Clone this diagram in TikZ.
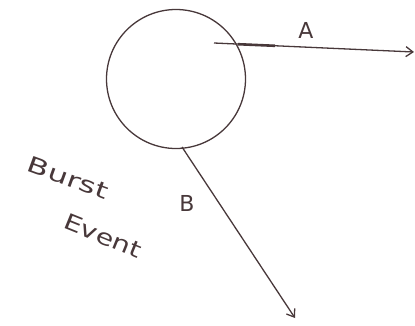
\documentclass[tikz,border=0pt]{standalone}
\usetikzlibrary{arrows.meta}
\usepackage{fontspec}
\setmainfont{DejaVu Sans}
\definecolor{ink}{RGB}{72,56,58}
\begin{document}
\begin{tikzpicture}[x=1pt,y=-1pt,
  pen/.style={draw=ink,line width=1.3pt},
  arr/.style={pen,-{Straight Barb[length=7pt,width=10pt]}},
  lab/.style={text=ink,font=\fontsize{22}{22}\selectfont,inner sep=1pt}]
\useasboundingbox (0,0) rectangle (415,325);
\node[pen,circle,minimum size=139pt,inner sep=0pt] (c) at (176,79) {};
\coordinate (a0) at (214,43);
\coordinate (a1) at (414,52);
\coordinate (b0) at (182,147);
\coordinate (b1) at (295,318);
\draw[arr] (a0) -- (a1);
\draw[pen,line width=2.6pt] (238,44.2) -- (275,45.8);
\draw[arr] (b0) -- (b1);
\node[lab] (la) at (306,30) {A};
\node[lab] (lb) at (187,203) {B};
\node[lab,rotate=-20,xscale=1.45] (burst) at (68,178) {Burst};
\node[lab,rotate=-22,xscale=1.3] (event) at (103,236) {Event};
\end{tikzpicture}
\end{document}
